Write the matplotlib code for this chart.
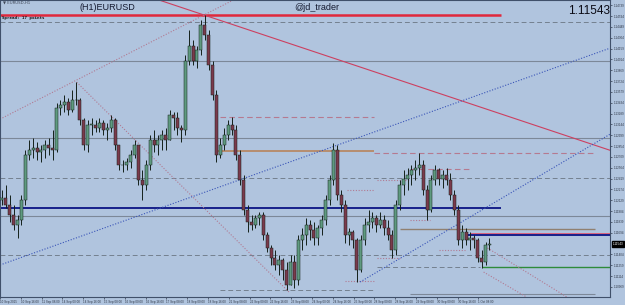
import matplotlib
matplotlib.use("Agg")
import matplotlib.pyplot as plt

# ---------------- data (H1 EURUSD, aggregated to 3-hour candles) ----------------
bar_hours = 3
first_open = 1.1213
highs = [1.1227, 1.1233, 1.1220, 1.1206, 1.1193, 1.1220, 1.1280, 1.1293, 1.1296, 1.1291,
         1.1287, 1.1293, 1.1296, 1.1307, 1.1343, 1.1347, 1.1354, 1.1350, 1.1360, 1.1371,
         1.1350, 1.1323, 1.1320, 1.1323, 1.1320, 1.1323, 1.1320, 1.1317, 1.1327, 1.1323,
         1.1287, 1.1267, 1.1269, 1.1280, 1.1293, 1.1287, 1.1253, 1.1267, 1.1300, 1.1307,
         1.1300, 1.1307, 1.1310, 1.1334, 1.1331, 1.1331, 1.1314, 1.1407, 1.1441, 1.1427,
         1.1420, 1.1454, 1.1461, 1.1441, 1.1400, 1.1360, 1.1296, 1.1310, 1.1320, 1.1324,
         1.1314, 1.1280, 1.1247, 1.1207, 1.1193, 1.1193, 1.1197, 1.1197, 1.1170, 1.1153,
         1.1146, 1.1140, 1.1136, 1.1130, 1.1140, 1.1140, 1.1166, 1.1176, 1.1189, 1.1186,
         1.1184, 1.1180, 1.1193, 1.1220, 1.1247, 1.1289, 1.1287, 1.1227, 1.1213, 1.1176,
         1.1173, 1.1162, 1.1166, 1.1189, 1.1200, 1.1197, 1.1193, 1.1197, 1.1193, 1.1186,
         1.1173, 1.1213, 1.1240, 1.1253, 1.1256, 1.1260, 1.1267, 1.1276, 1.1267, 1.1233,
         1.1247, 1.1260, 1.1256, 1.1253, 1.1256, 1.1250, 1.1227, 1.1207, 1.1180, 1.1176,
         1.1170, 1.1166, 1.1162, 1.1146, 1.1157, 1.1162]
lows = [1.1207, 1.1202, 1.1184, 1.1173, 1.1162, 1.1180, 1.1206, 1.1267, 1.1269, 1.1267,
        1.1264, 1.1269, 1.1273, 1.1267, 1.1277, 1.1327, 1.1331, 1.1327, 1.1331, 1.1340,
        1.1314, 1.1280, 1.1277, 1.1300, 1.1304, 1.1304, 1.1300, 1.1293, 1.1304, 1.1280,
        1.1253, 1.1251, 1.1253, 1.1256, 1.1269, 1.1233, 1.1213, 1.1227, 1.1253, 1.1277,
        1.1273, 1.1280, 1.1280, 1.1293, 1.1307, 1.1300, 1.1291, 1.1300, 1.1394, 1.1394,
        1.1390, 1.1407, 1.1427, 1.1387, 1.1347, 1.1264, 1.1269, 1.1280, 1.1293, 1.1300,
        1.1267, 1.1233, 1.1193, 1.1170, 1.1173, 1.1176, 1.1180, 1.1160, 1.1144, 1.1126,
        1.1120, 1.1113, 1.1106, 1.1093, 1.1100, 1.1096, 1.1100, 1.1146, 1.1153, 1.1160,
        1.1153, 1.1153, 1.1166, 1.1180, 1.1206, 1.1233, 1.1213, 1.1197, 1.1156, 1.1153,
        1.1149, 1.1104, 1.1117, 1.1153, 1.1170, 1.1176, 1.1170, 1.1176, 1.1166, 1.1160,
        1.1136, 1.1140, 1.1200, 1.1220, 1.1227, 1.1233, 1.1240, 1.1247, 1.1220, 1.1186,
        1.1197, 1.1233, 1.1233, 1.1229, 1.1233, 1.1213, 1.1193, 1.1153, 1.1149, 1.1153,
        1.1146, 1.1149, 1.1130, 1.1122, 1.1126, 1.1146]
closes = [1.1216, 1.1206, 1.1193, 1.1180, 1.1186, 1.1213, 1.1273, 1.1280, 1.1283, 1.1277,
          1.1280, 1.1287, 1.1283, 1.1280, 1.1336, 1.1340, 1.1344, 1.1334, 1.1347, 1.1347,
          1.1320, 1.1287, 1.1314, 1.1314, 1.1310, 1.1317, 1.1307, 1.1310, 1.1320, 1.1287,
          1.1260, 1.1260, 1.1264, 1.1273, 1.1287, 1.1240, 1.1233, 1.1260, 1.1293, 1.1287,
          1.1293, 1.1300, 1.1293, 1.1327, 1.1323, 1.1310, 1.1307, 1.1400, 1.1420, 1.1400,
          1.1414, 1.1447, 1.1434, 1.1394, 1.1354, 1.1273, 1.1287, 1.1300, 1.1314, 1.1307,
          1.1273, 1.1240, 1.1200, 1.1184, 1.1180, 1.1189, 1.1193, 1.1166, 1.1149, 1.1136,
          1.1126, 1.1133, 1.1120, 1.1100, 1.1130, 1.1106, 1.1160, 1.1166, 1.1180, 1.1173,
          1.1162, 1.1176, 1.1186, 1.1213, 1.1240, 1.1280, 1.1220, 1.1206, 1.1166, 1.1170,
          1.1160, 1.1120, 1.1160, 1.1180, 1.1184, 1.1189, 1.1180, 1.1186, 1.1176, 1.1166,
          1.1146, 1.1206, 1.1233, 1.1242, 1.1247, 1.1253, 1.1256, 1.1260, 1.1227, 1.1200,
          1.1240, 1.1253, 1.1242, 1.1247, 1.1240, 1.1220, 1.1200, 1.1160, 1.1170, 1.1160,
          1.1162, 1.1160, 1.1136, 1.1130, 1.1153, 1.11543]
opens = [first_open] + closes[:-1]

current_price = 1.11543

x_tick_hours = [0, 16, 32, 48, 64, 80, 96, 112, 128, 144, 160, 176, 192, 208, 224,
                 240, 256, 272, 288, 304, 320, 336, 352, 368]
x_tick_labels = ["10 Sep 2015", "10 Sep 16:00", "11 Sep 08:00", "14 Sep 00:00",
                 "14 Sep 16:00", "15 Sep 08:00", "16 Sep 00:00", "16 Sep 16:00",
                 "17 Sep 08:00", "18 Sep 00:00", "18 Sep 16:00", "21 Sep 08:00",
                 "22 Sep 00:00", "22 Sep 16:00", "23 Sep 08:00", "24 Sep 00:00",
                 "24 Sep 16:00", "25 Sep 08:00", "28 Sep 00:00", "28 Sep 16:00",
                 "29 Sep 08:00", "30 Sep 00:00", "30 Sep 16:00", "1 Oct 08:00"]
y_tick_values = [1.14739, 1.14594, 1.14449, 1.14304, 1.14159, 1.14014, 1.13869,
                 1.13724, 1.13579, 1.13434, 1.13289, 1.13144, 1.12999, 1.12854,
                 1.12709, 1.12564, 1.12419, 1.12274, 1.12129, 1.11984, 1.11839,
                 1.11694, 1.11404, 1.11259, 1.11114, 1.10969]

# horizontal levels: price, start hour, end hour, kind
level_prices = [1.1461, 1.1451, 1.1399, 1.1325, 1.1296, 1.1279, 1.1276, 1.1255,
                1.1243, 1.1240, 1.1227, 1.1202, 1.1192, 1.1186, 1.1175, 1.1168,
                1.1166, 1.1146, 1.1140, 1.1136, 1.1123, 1.1123, 1.1105, 1.1093, 1.1088]
level_start = [0, 0, 0, 169, 0, 165, 288, 315, 0, 290, 267, 0, 0, 315, 308, 362,
               360, 338, 0, 290, 290, 371, 265, 169, 315]
level_end = [385, 470, 470, 288, 470, 288, 458, 362, 470, 315, 288, 385, 470, 331,
             458, 470, 470, 358, 470, 308, 369, 470, 288, 288, 458]
level_kind = ["red", "gdash", "gray", "pdash", "gray", "brown", "pdash", "pdash",
              "gdash", "pdot", "pdot", "navy", "gray", "pdot", "gbrown", "red2",
              "navy", "pdot", "gdash", "pdot", "gdash", "green", "pdot", "gdash", "gray"]

# trend lines: (hour0, price0) -> (hour1, price1), kind
trend_h0 = [123, 0, 59, 0, 277, 375, 372]
trend_p0 = [1.14806, 1.13215, 1.13710, 1.11263, 1.11036, 1.11490, 1.11169]
trend_h1 = [469, 179, 223, 469, 481, 436, 405]
trend_p1 = [1.12800, 1.14806, 1.10889, 1.14164, 1.13135, 1.10835, 1.10835]
trend_kind = ["redline", "pdot", "pdot", "bdot", "bdot", "pdot", "pdot"]

# ---------------- styling ----------------
BG = "#b0c4de"
styles = {
    "red": dict(color="#e0283c", lw=1.8, ls="-"),
    "red2": dict(color="#e0506a", lw=1.2, ls="-"),
    "gray": dict(color="#7c8898", lw=0.8, ls="-"),
    "gdash": dict(color="#74808f", lw=0.7, ls=(0, (5, 3))),
    "pdash": dict(color="#b57a90", lw=0.8, ls=(0, (5, 3))),
    "pdot": dict(color="#b07a92", lw=0.8, ls=(0, (1, 1.5))),
    "brown": dict(color="#b8845c", lw=1.2, ls="-"),
    "gbrown": dict(color="#908070", lw=1.0, ls="-"),
    "navy": dict(color="#16208a", lw=1.4, ls="-"),
    "green": dict(color="#2e8b3a", lw=1.0, ls="-"),
    "redline": dict(color="#cc4060", lw=0.8, ls="-"),
    "bdot": dict(color="#3a55b8", lw=0.8, ls=(0, (1, 1.5))),
}

plt.rcParams["font.family"] = ["Liberation Sans", "DejaVu Sans"]
fig = plt.figure(figsize=(6.25, 3.05), dpi=100, facecolor=BG)
ax = fig.add_axes([0.0, 1 - 297 / 305, 610 / 625, 297 / 305 - 0.001])
ax.set_facecolor(BG)

y_top, y_bot = 1.14806, 1.10835
ax.set_ylim(y_bot, y_top)
ax.set_xlim(0, 469.2)

for p, h0, h1, k in zip(level_prices, level_start, level_end, level_kind):
    st = styles[k]
    ax.hlines(p, h0, h1, colors=st["color"], linewidth=st["lw"], linestyles=st["ls"],
              zorder=2)

for h0, p0, h1, p1, k in zip(trend_h0, trend_p0, trend_h1, trend_p1, trend_kind):
    ax.plot([h0, h1], [p0, p1], zorder=2, **styles[k])

xs = [bar_hours * i + bar_hours / 2 for i in range(len(closes))]
ax.vlines(xs, lows, highs, colors="#14201a", linewidth=0.7, zorder=3)
up_x = [x for x, o, c in zip(xs, opens, closes) if c >= o]
up_b = [o for o, c in zip(opens, closes) if c >= o]
up_h = [max(c - o, 0.00004) for o, c in zip(opens, closes) if c >= o]
dn_x = [x for x, o, c in zip(xs, opens, closes) if c < o]
dn_b = [c for o, c in zip(opens, closes) if c < o]
dn_h = [o - c for o, c in zip(opens, closes) if c < o]
ax.bar(up_x, up_h, bottom=up_b, width=2.3, color="#5f9a80", edgecolor="#14201a",
       linewidth=0.35, zorder=4)
ax.bar(dn_x, dn_h, bottom=dn_b, width=2.3, color="#7a3a4c", edgecolor="#14201a",
       linewidth=0.35, zorder=4)

# axes
for s in ["left", "top", "right", "bottom"]:
    ax.spines[s].set_color("#40506a")
    ax.spines[s].set_linewidth(0.8)
ax.yaxis.tick_right()
ax.set_yticks(y_tick_values)
ax.set_yticklabels([f"{v:.5f}" for v in y_tick_values])
ax.tick_params(axis="y", labelsize=2.2, length=1.5, width=0.5, pad=1.0,
               colors="#303848")
ax.set_xticks(x_tick_hours)
ax.set_xticklabels(x_tick_labels, ha="left")
ax.tick_params(axis="x", labelsize=2.2, length=1.5, width=0.5, pad=0.8,
               colors="#303848")

# current price box
ax.text(1.004, current_price, f"{current_price:.5f}", transform=ax.get_yaxis_transform(),
        fontsize=2.2, color="white", va="center", ha="left",
        bbox=dict(facecolor="black", edgecolor="black", pad=0.5))

# texts
fig.text(3 / 625, 1 - 3 / 305, "\u25bc EURUSD,H1", fontsize=2.8, color="#404858",
         va="center", ha="left", family=["DejaVu Sans"])
fig.text(107 / 625, 1 - 7 / 305, "(H1)EURUSD", fontsize=6.5, color="#151a30",
         va="center", ha="center")
fig.text(317 / 625, 1 - 7 / 305, "@jd_trader", fontsize=6.5, color="#151a30",
         va="center", ha="center")
fig.text(610 / 625, 1 - 11 / 305, f"{current_price:.5f}", fontsize=8.5,
         color="#0a0a14", va="center", ha="right")
fig.text(2 / 625, 1 - 18 / 305, "Spread: 17 points", fontsize=3.0, color="#101010",
         va="center", ha="left", family=["DejaVu Sans Mono"], weight="bold")

fig.savefig("out.png", dpi=100, facecolor=BG)
